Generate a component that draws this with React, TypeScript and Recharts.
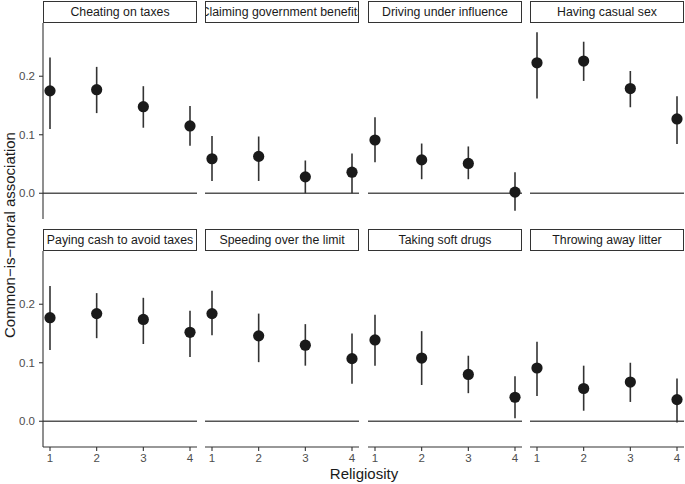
import React from 'react';
import { ComposedChart, Scatter, ErrorBar, XAxis, YAxis, ReferenceLine } from 'recharts';

// Facet titles, in panel order (row by row)
const behaviours = [
  'Cheating on taxes',
  'Claiming government benefits',
  'Driving under influence',
  'Having casual sex',
  'Paying cash to avoid taxes',
  'Speeding over the limit',
  'Taking soft drugs',
  'Throwing away litter',
];

const religiosity = [1, 2, 3, 4];

// point estimates per panel (religiosity 1..4)
const estimates = [
  [0.175, 0.177, 0.148, 0.115],
  [0.059, 0.063, 0.028, 0.036],
  [0.091, 0.057, 0.051, 0.002],
  [0.223, 0.226, 0.179, 0.127],
  [0.177, 0.184, 0.174, 0.152],
  [0.184, 0.146, 0.130, 0.107],
  [0.139, 0.108, 0.080, 0.041],
  [0.091, 0.056, 0.067, 0.037],
];

const lowers = [
  [0.110, 0.137, 0.112, 0.081],
  [0.021, 0.021, 0.000, 0.000],
  [0.053, 0.024, 0.024, -0.030],
  [0.162, 0.192, 0.147, 0.084],
  [0.122, 0.142, 0.132, 0.110],
  [0.147, 0.101, 0.095, 0.064],
  [0.095, 0.062, 0.048, 0.005],
  [0.043, 0.018, 0.033, -0.002],
];

const uppers = [
  [0.232, 0.216, 0.183, 0.149],
  [0.098, 0.097, 0.056, 0.068],
  [0.130, 0.085, 0.080, 0.036],
  [0.275, 0.259, 0.209, 0.166],
  [0.231, 0.219, 0.211, 0.189],
  [0.223, 0.184, 0.166, 0.150],
  [0.182, 0.154, 0.112, 0.077],
  [0.136, 0.095, 0.100, 0.073],
];

const yTicks = [0, 0.1, 0.2];

const PLOT_LEFTS = [43, 205, 368, 530];
const PLOT_TOPS = [23, 251];
const PLOT_W = 154;
const PLOT_H = 196;
const Y_AXIS_W = 43;
const X_AXIS_H = 24;
const FONT = '"Liberation Sans", Arial, Helvetica, sans-serif';

const Dot = (props: any) => {
  if (props.cx == null || props.cy == null) return null;
  return <circle cx={props.cx} cy={props.cy} r={5.6} fill="#1a1a1a" />;
};

function Panel({ index }: { index: number }) {
  const row = Math.floor(index / 4);
  const col = index % 4;
  const showY = col === 0;
  const showX = row === 1;
  const data = religiosity.map((r, i) => ({
    x: r,
    y: estimates[index][i],
    err: [estimates[index][i] - lowers[index][i], uppers[index][i] - estimates[index][i]],
  }));
  const left = showY ? PLOT_LEFTS[col] - Y_AXIS_W : PLOT_LEFTS[col];
  const width = PLOT_W + (showY ? Y_AXIS_W : 0);
  const height = PLOT_H + (showX ? X_AXIS_H : 0);

  return (
    <>
      <div
        style={{
          position: 'absolute',
          left: PLOT_LEFTS[col],
          top: PLOT_TOPS[row] - 22,
          width: PLOT_W,
          height: 22,
          boxSizing: 'border-box',
          border: '1px solid #333',
          background: '#fff',
          overflow: 'hidden',
          display: 'flex',
          justifyContent: 'center',
          alignItems: 'center',
          whiteSpace: 'nowrap',
          fontFamily: FONT,
          fontSize: 12.3,
          color: '#1a1a1a',
        }}
      >
        <span>{behaviours[index]}</span>
      </div>
      <div style={{ position: 'absolute', left, top: PLOT_TOPS[row] }}>
        <ComposedChart
          width={width}
          height={height}
          data={data}
          margin={{ top: 0, right: 0, bottom: 0, left: 0 }}
        >
          <XAxis
            dataKey="x"
            type="number"
            domain={[0.85, 4.15]}
            ticks={religiosity}
            hide={!showX}
            height={X_AXIS_H}
            tickSize={4}
            tickMargin={3}
            tick={{ fontSize: 11.5, fill: '#4d4d4d', fontFamily: FONT }}
            axisLine={{ stroke: '#333', strokeWidth: 1.1 }}
            tickLine={{ stroke: '#333', strokeWidth: 1.1 }}
            allowDataOverflow
          />
          <YAxis
            dataKey="y"
            type="number"
            domain={[-0.044, 0.291]}
            ticks={yTicks}
            hide={!showY}
            width={Y_AXIS_W}
            tickSize={4}
            tickMargin={4}
            tickFormatter={(v: number) => v.toFixed(1)}
            tick={{ fontSize: 11.5, fill: '#4d4d4d', fontFamily: FONT }}
            axisLine={{ stroke: '#333', strokeWidth: 1.1 }}
            tickLine={{ stroke: '#333', strokeWidth: 1.1 }}
            allowDataOverflow
          />
          <ReferenceLine y={0} stroke="#555" strokeWidth={1.4} />
          <Scatter dataKey="y" shape={<Dot />} isAnimationActive={false}>
            <ErrorBar
              dataKey="err"
              direction="y"
              width={0}
              stroke="#333"
              strokeWidth={1.6}
              isAnimationActive={false}
            />
          </Scatter>
        </ComposedChart>
      </div>
    </>
  );
}

export default function App() {
  return (
    <div
      style={{
        position: 'absolute',
        left: 0,
        top: 0,
        width: 685,
        height: 484,
        background: '#fff',
        overflow: 'hidden',
        fontFamily: FONT,
      }}
    >
      {behaviours.map((_, i) => (
        <Panel key={i} index={i} />
      ))}
      <div
        style={{
          position: 'absolute',
          left: 280,
          top: 465,
          width: 168,
          textAlign: 'center',
          fontSize: 15,
          color: '#1a1a1a',
        }}
      >
        Religiosity
      </div>
      <div
        style={{
          position: 'absolute',
          left: 10,
          top: 235,
          width: 300,
          marginLeft: -150,
          marginTop: -9,
          textAlign: 'center',
          fontSize: 15,
          lineHeight: '18px',
          color: '#1a1a1a',
          transform: 'rotate(-90deg)',
        }}
      >
        Common−is−moral association
      </div>
    </div>
  );
}
